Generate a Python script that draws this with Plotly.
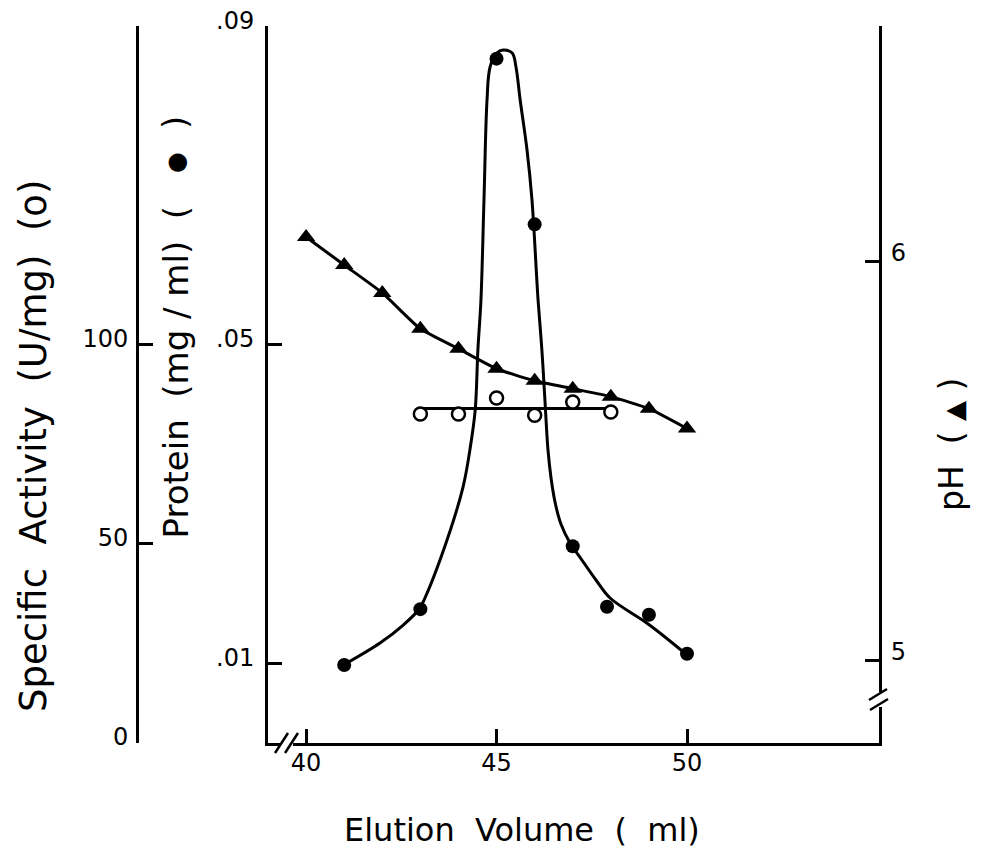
import plotly.graph_objects as go

# ---------------- data ----------------
elution_protein = [41, 43, 45, 46, 47, 47.9, 49, 50]
protein = [0.0098, 0.0168, 0.0859, 0.0651, 0.0247, 0.0171, 0.0161, 0.0112]

# hand-drawn protein elution curve
protein_fit_x = [41.02, 41.94, 42.55, 42.97, 43.12, 43.70, 44.12, 44.30, 44.44, 44.51,
                 44.59, 44.67, 44.75, 44.83, 45.01, 45.17, 45.41, 45.51, 45.62, 45.80,
                 45.93, 46.09, 46.19, 46.27, 46.35, 46.43, 46.54, 46.69, 46.93, 47.24,
                 47.61, 47.98, 48.98, 49.97]
protein_fit_y = [0.0099, 0.01255, 0.01481, 0.01682, 0.0182, 0.02548, 0.03213, 0.03678, 0.0418, 0.04933,
                 0.0556, 0.06816, 0.08071, 0.08485, 0.08661, 0.08698, 0.08661, 0.08485, 0.08071, 0.07443,
                 0.06816, 0.0556, 0.04933, 0.04305, 0.03678, 0.03326, 0.03012, 0.02749, 0.0251, 0.02297,
                 0.02046, 0.0182, 0.01494, 0.01117]

elution_activity = [43, 44, 45, 46, 47, 48]
activity = [82.6, 82.6, 86.6, 82.3, 85.6, 83.1]
activity_fit_x = [43, 48]
activity_fit_y = [84.0, 84.0]

elution_ph = [40, 41, 42, 43, 44, 45, 46, 47, 48, 49, 50]
ph = [6.06, 5.99, 5.92, 5.83, 5.78, 5.73, 5.70, 5.68, 5.66, 5.63, 5.58]

x_ticks = [40, 45, 50]
protein_ticks = [0.01, 0.05, 0.0899]
protein_ticktext = [".01", ".05", ".09"]
activity_ticks = [0, 50, 100, 180]
activity_ticktext = ["0", "50", "100", ""]
ph_ticks = [5, 6, 6.589]
ph_ticktext = ["5", "6", ""]

# ---------------- figure ----------------
PAGE_OFF = 8            # default body margin of the html page
W, H = 981 - 2 * PAGE_OFF, 857 - 2 * PAGE_OFF
FONT = "DejaVu Sans"


def px(x):
    return (x - PAGE_OFF) / W


def py(y):
    return 1 - (y - PAGE_OFF) / H


fig = go.Figure()

fig.add_trace(go.Scatter(x=protein_fit_x, y=protein_fit_y, mode="lines",
                         line=dict(color="black", width=3, shape="spline", smoothing=1.0),
                         xaxis="x", yaxis="y", hoverinfo="skip"))
fig.add_trace(go.Scatter(x=elution_protein, y=protein, mode="markers",
                         marker=dict(symbol="circle", size=14, color="black"),
                         xaxis="x", yaxis="y"))

fig.add_trace(go.Scatter(x=activity_fit_x, y=activity_fit_y, mode="lines",
                         line=dict(color="black", width=3),
                         xaxis="x", yaxis="y2", hoverinfo="skip"))
fig.add_trace(go.Scatter(x=elution_activity, y=activity, mode="markers",
                         marker=dict(symbol="circle", size=13, color="white",
                                     line=dict(color="black", width=2.5)),
                         xaxis="x", yaxis="y2"))

fig.add_trace(go.Scatter(x=elution_ph, y=ph, mode="lines+markers",
                         line=dict(color="black", width=3, shape="spline", smoothing=0.5),
                         marker=dict(symbol="triangle-up", size=16, color="black"),
                         xaxis="x", yaxis="y3"))

ydom = [py(743), py(26)]
common = dict(showgrid=False, zeroline=False, showline=True, linecolor="black",
              linewidth=3, ticks="inside", tickcolor="black", tickwidth=2.5,
              ticklen=14, automargin=False, ticklabeloverflow="allow",
              tickfont=dict(family=FONT, size=24, color="black"))

fig.update_layout(
    width=W, height=H,
    margin=dict(l=0, r=0, t=0, b=0, autoexpand=False),
    paper_bgcolor="white", plot_bgcolor="white",
    showlegend=False,
    xaxis=dict(domain=[px(268), px(879)], range=[39.0, 55.04], anchor="y",
               tickvals=x_ticks, ticklabelstandoff=-4, **common),
    yaxis=dict(domain=ydom, range=[0, 0.09], anchor="x", side="left",
               tickvals=protein_ticks, ticktext=protein_ticktext,
               ticklabelshift=-6, ticklabelstandoff=6, **common),
    yaxis2=dict(overlaying="y", anchor="free", position=px(137), side="left",
                range=[0, 180], tickvals=activity_ticks, ticktext=activity_ticktext,
                ticklabelshift=-6, ticklabelstandoff=3, **common),
    yaxis3=dict(overlaying="y", anchor="x", side="right",
                range=[4.792, 6.589], tickvals=ph_ticks, ticktext=ph_ticktext,
                ticklabelshift=-8, ticklabelstandoff=4, **common),
)

# axis titles
title_common = dict(xref="paper", yref="paper", showarrow=False)
fig.add_annotation(text="Specific  Activity  (U/mg)  (o)", x=px(33), y=py(446),
                   xanchor="center", yanchor="middle",
                   textangle=-90, font=dict(family=FONT, size=37, color="black"),
                   **title_common)
# protein title, written in three pieces (text, symbol, closing bracket)
fig.add_annotation(text="Protein  (mg / ml)  (", x=px(175), y=py(541),
                   xanchor="center", yanchor="bottom",
                   textangle=-90, font=dict(family=FONT, size=34, color="black"),
                   **title_common)
fig.add_annotation(text="●", x=px(176), y=py(163),
                   xanchor="center", yanchor="middle",
                   textangle=-90, font=dict(family=FONT, size=24, color="black"),
                   **title_common)
fig.add_annotation(text=")", x=px(175), y=py(123),
                   xanchor="center", yanchor="middle",
                   textangle=-90, font=dict(family=FONT, size=34, color="black"),
                   **title_common)
fig.add_annotation(text="pH  ( <span style='font-size:26px'>▲</span> )", x=px(951), y=py(445),
                   xanchor="center", yanchor="middle",
                   textangle=-90, font=dict(family=FONT, size=33, color="black"),
                   **title_common)
fig.add_annotation(text="Elution  Volume  (  ml)", x=px(522), y=py(830),
                   xanchor="center", yanchor="middle",
                   font=dict(family=FONT, size=32, color="black"),
                   **title_common)

# axis-break marks
shapes = [
    dict(type="rect", x0=px(280), x1=px(293), y0=py(739), y1=py(748),
         xref="paper", yref="paper", fillcolor="white", line=dict(width=0)),
    dict(type="line", x0=px(275), y0=py(753), x1=px(288), y1=py(733),
         xref="paper", yref="paper", line=dict(color="black", width=2.5)),
    dict(type="line", x0=px(285), y0=py(753), x1=px(298), y1=py(733),
         xref="paper", yref="paper", line=dict(color="black", width=2.5)),
    dict(type="rect", x0=px(874), x1=px(884), y0=py(707), y1=py(692),
         xref="paper", yref="paper", fillcolor="white", line=dict(width=0)),
    dict(type="line", x0=px(869), y0=py(700), x1=px(887), y1=py(689),
         xref="paper", yref="paper", line=dict(color="black", width=2.5)),
    dict(type="line", x0=px(870), y0=py(710), x1=px(888), y1=py(699),
         xref="paper", yref="paper", line=dict(color="black", width=2.5)),
]
fig.update_layout(shapes=shapes)

fig.write_html("out.html")
